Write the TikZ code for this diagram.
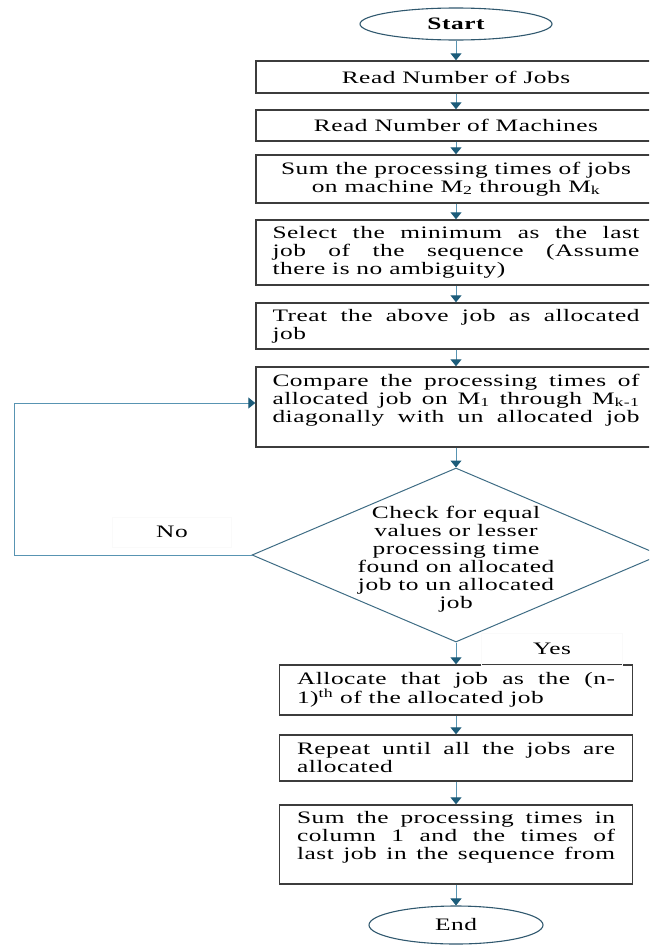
\documentclass[tikz,border=0pt]{standalone}
\usepackage{fontspec}
\setmainfont{Liberation Serif}[FakeStretch=1.45,LetterSpace=3]
\usetikzlibrary{shapes.geometric,arrows.meta}
\definecolor{linec}{RGB}{88,148,178}
\definecolor{tipc}{RGB}{28,92,122}
\definecolor{boxc}{RGB}{60,60,60}
\definecolor{diac}{RGB}{62,108,132}
\definecolor{ellc}{RGB}{48,88,110}
\newcommand\JL[1]{\hbox to\hsize{#1}}
\newcommand\LL[1]{\hbox to\hsize{#1\hfil}}
\newcommand\CL[1]{\hbox to\hsize{\hfil#1\hfil}}
\newcommand\TB[2]{\vbox{\hsize=#1\relax#2}}
\begin{document}
\begin{tikzpicture}[x=1pt,y=-1pt,font=\fontsize{17.5pt}{18pt}\selectfont,
  box/.style={draw=boxc,line width=1.4pt,rectangle,inner sep=0pt},
  ub/.style={box,minimum width=400pt},
  lb/.style={box,minimum width=353pt},
  term/.style={ellipse,draw=ellc,line width=1.1pt,inner sep=0pt},
  conn/.style={draw=linec,line width=1pt,-{Triangle[width=11pt,length=7pt,color=tipc]}},
  lab/.style={draw=black!2,line width=0.5pt,inner sep=0pt}]
\path[use as bounding box,clip] (0,0) rectangle (649,945);
\node[term,minimum width=192pt,minimum height=32pt] (start) at (456,24) {\bfseries Start};
\node[ub,minimum height=32pt] (jobs) at (456,77) {Read Number of Jobs};
\node[ub,minimum height=31pt] (mach) at (456,125.5) {Read Number of Machines};
\node[ub,minimum height=48pt] (sum) at (456,179) {\TB{367pt}{\CL{Sum the processing times of jobs}\CL{on machine M\textsubscript{2} through M\textsubscript{k}}}};
\node[ub,minimum height=65pt] (sel) at (456,252.5) {\TB{367pt}{\JL{Select the minimum as the last}\JL{job of the sequence (Assume}\LL{there is no ambiguity)}}};
\node[ub,minimum height=46pt] (treat) at (456,326) {\TB{367pt}{\JL{Treat the above job as allocated}\LL{job}}};
\node[ub,minimum height=80pt] (cmp) at (456,407) {\TB{367pt}{\JL{Compare the processing times of}\JL{allocated job on M\textsubscript{1} through M\textsubscript{k-1}}\JL{diagonally with un allocated job}\LL{}}};
\node[diamond,draw=diac,line width=1pt,minimum width=408pt,minimum height=174pt,inner sep=0pt] (dia) at (456,555) {};
\node (dtext) at (456,559) {\TB{250pt}{\CL{Check for equal}\CL{values or lesser}\CL{processing time}\CL{found on allocated}\CL{job to un allocated}\CL{job}}};
\node[lb,minimum height=50pt] (alloc) at (456,690) {\TB{318pt}{\JL{Allocate that job as the (n-}\LL{1)\textsuperscript{th} of the allocated job}}};
\node[lb,minimum height=46pt] (rep) at (456,758) {\TB{318pt}{\JL{Repeat until all the jobs are}\LL{allocated}}};
\node[lb,minimum height=79pt] (sumb) at (456,844.5) {\TB{318pt}{\JL{Sum the processing times in}\JL{column 1 and the times of}\JL{last job in the sequence from}\LL{}}};
\node[term,minimum width=174pt,minimum height=38pt] (end) at (456,925) {End};
\node[lab,minimum width=119pt,minimum height=30pt] (no) at (172,532) {No};
\node[lab,minimum width=141pt,minimum height=32pt] (yes) at (552,649) {Yes};
\coordinate (lp) at (14,555);
\draw[conn] (start) -- (jobs);
\draw[conn] (jobs) -- (mach);
\draw[conn] (mach) -- (sum);
\draw[conn] (sum) -- (sel);
\draw[conn] (sel) -- (treat);
\draw[conn] (treat) -- (cmp);
\draw[conn] (cmp) -- (dia);
\draw[conn] (dia) -- (alloc);
\draw[conn] (alloc) -- (rep);
\draw[conn] (rep) -- (sumb);
\draw[conn] (sumb) -- (end);
\draw[conn] (dia.west) -- (lp) |- ([yshift=4pt]cmp.west);
\end{tikzpicture}
\end{document}
